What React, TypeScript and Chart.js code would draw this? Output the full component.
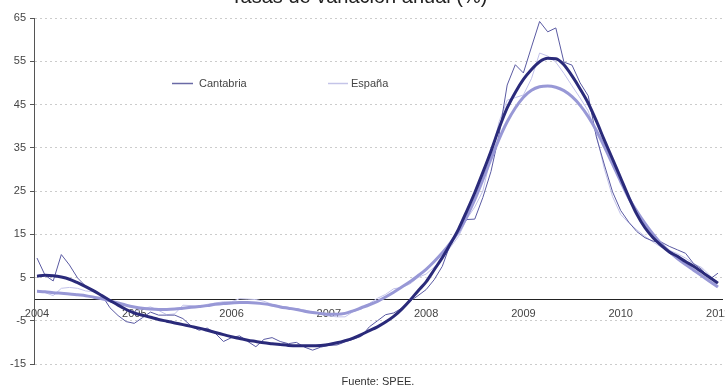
import React, { useEffect, useRef } from 'react';
import { Chart, registerables } from 'chart.js';

Chart.register(...registerables);

// ---- data (monthly, Jan 2004 .. Jan 2011) ----
const yearLabels = ['2004', '2005', '2006', '2007', '2008', '2009', '2010', '2011'];

const cantabriaRaw = [
  9.5, 5.5, 4.2, 10.3, 7.9, 4.9, 3.0, 2.1, 0.9, -2.0,
  -3.8, -5.2, -5.6, -4.3, -3.0, -3.7, -3.7, -3.7, -4.5, -6.2,
  -7.2, -6.7, -7.9, -9.8, -8.9, -8.5, -9.8, -11.0, -9.3, -8.9,
  -9.8, -10.3, -10.0, -11.1, -11.8, -11.1, -10.7, -10.6, -9.9, -9.3,
  -8.6, -6.4, -5.0, -3.6, -3.2, -2.1, -0.5, 0.8, 2.2, 4.5,
  7.6, 12.8, 16.0, 18.4, 18.5, 23.5, 29.5, 38.0, 49.5, 54.2,
  52.3, 58.3, 64.2, 61.8, 62.7, 54.8, 54.1, 50.0, 47.0, 37.5,
  31.0, 24.8, 20.5, 17.8, 15.6, 14.2, 13.4, 13.2, 12.2, 11.4,
  10.6, 8.2, 6.9, 4.6, 6.0,
];

const cantabriaTrend = [
  5.3, 5.5, 5.4, 5.1, 4.6, 3.8, 2.9, 1.9, 0.8, -0.3,
  -1.4, -2.4, -3.2, -3.7, -4.2, -4.7, -5.1, -5.5, -5.9, -6.3,
  -6.7, -7.2, -7.7, -8.2, -8.7, -9.1, -9.5, -9.8, -10.1, -10.3,
  -10.5, -10.7, -10.8, -10.8, -10.8, -10.7, -10.5, -10.1, -9.6, -9.0,
  -8.2, -7.3, -6.4, -5.3, -4.0, -2.3, -0.3, 1.9, 4.0, 6.8,
  9.6, 12.8, 16.2, 20.3, 24.6, 29.3, 34.2, 39.5, 44.2, 47.8,
  50.8, 53.1, 54.9, 55.7, 55.6, 54.2, 51.6, 48.6, 45.3, 41.2,
  36.7, 32.4, 28.0, 23.6, 19.6, 16.5, 14.2, 12.4, 10.9, 9.9,
  8.7, 7.6, 6.3, 5.0, 3.7,
];

const espanaRaw = [
  1.9, 1.5, 0.8, 2.5, 2.7, 2.5, 1.9, 1.7, 0.7, -0.4,
  -1.5, -2.4, -2.9, -2.2, -1.8, -2.6, -3.6, -3.4, -1.4, -1.5,
  -1.7, -1.2, -0.9, -0.6, -0.6, 0.1, 0.0, -0.1, -0.5, -1.2,
  -1.6, -1.9, -2.2, -2.5, -3.0, -3.4, -3.9, -4.1, -4.1, -2.9,
  -2.3, -1.0, 0.2, 1.1, 2.4, 2.7, 3.5, 5.0, 5.8, 7.4,
  9.3, 12.0, 14.5, 18.5, 21.3, 25.0, 33.0, 41.0, 46.0, 46.6,
  47.2, 51.0, 56.9, 56.2, 54.8, 52.2, 49.3, 46.5, 43.5, 38.0,
  30.0, 23.7, 19.6, 17.6, 16.0, 14.5, 13.2, 12.0, 11.3, 10.5,
  9.5, 8.2, 7.3, 5.5, 2.9,
];

const espanaTrend = [
  1.8, 1.7, 1.5, 1.35, 1.2, 1.0, 0.8, 0.45, 0.1, -0.4,
  -0.9, -1.4, -1.8, -2.1, -2.3, -2.4, -2.4, -2.3, -2.1, -1.9,
  -1.7, -1.5, -1.2, -1.0, -0.9, -0.8, -0.8, -0.9, -1.1, -1.4,
  -1.8, -2.1, -2.4, -2.8, -3.1, -3.3, -3.5, -3.5, -3.3, -2.7,
  -2.0, -1.3, -0.5, 0.5, 1.6, 2.8, 4.0, 5.4, 6.9, 8.7,
  10.7, 13.0, 15.6, 19.0, 23.0, 27.6, 32.4, 37.0, 41.0, 44.2,
  46.7, 48.3, 49.1, 49.3, 49.0, 48.2, 46.8, 44.8, 42.2, 39.0,
  35.2, 31.2, 27.2, 23.4, 20.3, 17.5, 15.0, 12.8, 11.0, 9.4,
  8.0, 6.7, 5.4, 4.1, 2.8,
];

const titleText = 'Tasas de variación anual (%)';
const sourceText = 'Fuente: SPEE.';
const legendItems = ['Cantabria', 'España'];

const FONT = 'Arial, "Liberation Sans", sans-serif';
const CANVAS_W = 760;
const CANVAS_H = 387;

const C_CANT_RAW = '#5a5aa2';
const C_CANT_TREND = '#2a2a7a';
const C_ESP_RAW = '#c2c2ea';
const C_ESP_TREND = '#9898d6';

const toXY = (arr: number[]) => arr.map((v, i) => ({ x: i, y: v }));

const decor = {
  id: 'decor',
  afterDraw(chart: any) {
    const ctx = chart.ctx;
    const area = chart.chartArea;
    ctx.save();
    // title (partly outside the picture)
    ctx.fillStyle = '#222';
    ctx.font = `20px ${FONT}`;
    ctx.textAlign = 'center';
    ctx.textBaseline = 'alphabetic';
    ctx.fillText(titleText, 359, 3);
    // source
    ctx.font = `11px ${FONT}`;
    ctx.fillStyle = '#333';
    ctx.textBaseline = 'middle';
    ctx.fillText(sourceText, (area.left + area.right) / 2, 382);
    // legend
    const ly = 83;
    const items = [
      { text: legendItems[0], color: '#6a6aa6', x0: 172, x1: 193, tx: 199 },
      { text: legendItems[1], color: '#c4c4e8', x0: 328, x1: 348, tx: 351 },
    ];
    ctx.textAlign = 'left';
    ctx.font = `11px ${FONT}`;
    items.forEach((it) => {
      ctx.strokeStyle = it.color;
      ctx.lineWidth = 1.5;
      ctx.beginPath();
      ctx.moveTo(it.x0, ly + 0.5);
      ctx.lineTo(it.x1, ly + 0.5);
      ctx.stroke();
      ctx.fillStyle = '#444';
      ctx.fillText(it.text, it.tx, ly + 0.5);
    });
    ctx.restore();
  },
};

export default function App() {
  const ref = useRef<HTMLCanvasElement>(null);
  useEffect(() => {
    if (!ref.current) return;
    const chart = new Chart(ref.current, {
      type: 'line',
      data: {
        datasets: [
          {
            label: 'Cantabria (tendencia)',
            data: toXY(cantabriaTrend),
            borderColor: C_CANT_TREND,
            borderWidth: 3,
            pointRadius: 0,
            cubicInterpolationMode: 'monotone',
            fill: false,
          },
          {
            label: 'España (tendencia)',
            data: toXY(espanaTrend),
            borderColor: C_ESP_TREND,
            borderWidth: 3,
            pointRadius: 0,
            cubicInterpolationMode: 'monotone',
            fill: false,
          },
          {
            label: legendItems[0],
            data: toXY(cantabriaRaw),
            borderColor: C_CANT_RAW,
            borderWidth: 1,
            pointRadius: 0,
            tension: 0,
            fill: false,
          },
          {
            label: legendItems[1],
            data: toXY(espanaRaw),
            borderColor: C_ESP_RAW,
            borderWidth: 1,
            pointRadius: 0,
            tension: 0,
            fill: false,
          },
        ],
      },
      options: {
        responsive: false,
        maintainAspectRatio: false,
        animation: false,
        events: [],
        layout: { padding: { left: 0, top: 18, right: CANVAS_W - 722, bottom: 23 } },
        plugins: {
          legend: { display: false },
          tooltip: { enabled: false },
          title: { display: false },
        },
        scales: {
          x: {
            type: 'linear',
            position: { y: 0 } as any,
            min: -0.37,
            max: 84.5,
            grid: { display: false, drawTicks: false },
            border: { display: true, color: '#222', width: 1 },
            ticks: {
              stepSize: 12,
              includeBounds: false,
              autoSkip: false,
              maxRotation: 0,
              padding: 8,
              color: '#444',
              font: { family: FONT, size: 11 },
              callback: (v: any) => {
                const n = Number(v);
                if (n % 12 !== 0) return '';
                return yearLabels[Math.round(n / 12)] ?? '';
              },
            },
          },
          y: {
            min: -15,
            max: 65,
            afterFit: (s: any) => {
              s.width = 34;
            },
            grid: {
              color: '#cccccc',
              tickColor: '#555',
              tickLength: 4,
              drawTicks: true,
            },
            border: { display: true, color: '#555', width: 1, dash: [2, 3] },
            ticks: {
              stepSize: 10,
              padding: 4,
              color: '#444',
              font: { family: FONT, size: 11 },
            },
          },
        },
      },
      plugins: [decor],
    });
    return () => chart.destroy();
  }, []);

  return (
    <div
      style={{
        position: 'fixed',
        left: 0,
        top: 0,
        width: 725,
        height: 387,
        overflow: 'hidden',
        background: '#fff',
      }}
    >
      <canvas
        ref={ref}
        width={CANVAS_W}
        height={CANVAS_H}
        style={{ display: 'block', width: CANVAS_W, height: CANVAS_H }}
      />
    </div>
  );
}
